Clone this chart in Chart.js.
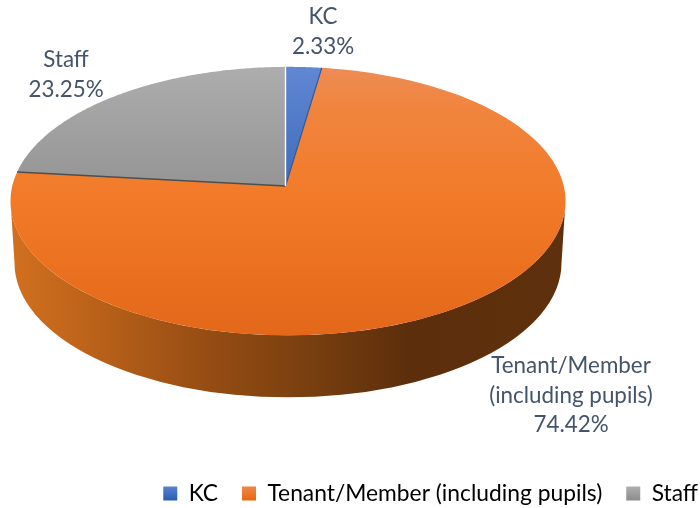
<!DOCTYPE html>
<html>
<head>
<meta charset="utf-8">
<style>html,body{margin:0;padding:0;background:#fff}canvas{display:block}</style>
<script src="https://cdn.jsdelivr.net/npm/chart.js@4"></script>
</head>
<body>
<canvas id="c" width="700" height="508"></canvas>
<script>
const categories = ['KC', 'Tenant/Member (including pupils)', 'Staff'];
const shares = [2.33, 74.42, 23.25];
const labelLines = [['KC'], ['Tenant/Member', '(including pupils)'], ['Staff']];

const FONT = 'Lato, "Open Sans", sans-serif';
const TEXT = '#44546a';
const base = ['#4472c4', '#ed7d31', '#a5a5a5'];
const faceStops = [
  [[0, '#6087d2'], [1, '#3f6cbc']],
  [[0, '#ee8c55'], [0.14, '#f0853f'], [0.5, '#f27a27'], [1, '#e3681a']],
  [[0, '#adadad'], [1, '#959595']]
];
const legendStops = [
  [[0, '#5f86d1'], [1, '#2f5fb5']],
  [[0, '#f08a4c'], [1, '#e96a15']],
  [[0, '#b2b2b2'], [1, '#8f8f8f']]
];
const wallStops = [[0, '#d0701f'], [0.1, '#c2661b'], [0.35, '#964d13'], [0.55, '#773e0f'], [0.72, '#5c2e0b'], [1, '#5f300c']];
const labelAnchors = [[323, 17], [571, 366], [66, 60]];
const LABEL_STEP = 29.5;
const SQUASH = 0.4838, SHIFT_X = -62, LIFT = -28, DEPTH = 62, WALL_INSET = 4, TILT_Y = 0.112, TILT_X = -0.009;

function project(a, g) {
  const u = Math.cos(a), v = -Math.sin(a);
  const d = 1 + TILT_Y * v, k = Math.sqrt(1 - TILT_Y * TILT_Y);
  const Y = (v + TILT_Y) / d, X = u * k / d;
  const d2 = 1 + TILT_X * X, k2 = Math.sqrt(1 - TILT_X * TILT_X);
  return [g.cx + g.rx * (X + TILT_X) / d2, g.cy - g.ry * Y * k2 / d2];
}
function apex(g) {
  return [g.cx + g.rx * TILT_X, g.cy - g.ry * TILT_Y * Math.sqrt(1 - TILT_X * TILT_X)];
}
function grad(ctx, x0, y0, x1, y1, stops) {
  const g = ctx.createLinearGradient(x0, y0, x1, y1);
  stops.forEach(s => g.addColorStop(s[0], s[1]));
  return g;
}

const tiltedPie = {
  id: 'tiltedPie',
  beforeDatasetDraw(chart, args) {
    const ctx = chart.ctx, arcs = args.meta.data, first = arcs[0];
    const g = { cx: first.x + SHIFT_X, cy: first.y + LIFT, rx: first.outerRadius, ry: first.outerRadius * SQUASH };
    const wx = g.rx - WALL_INSET, by = g.cy + DEPTH;

    // side wall
    ctx.save();
    ctx.beginPath();
    ctx.ellipse(g.cx, g.cy, g.rx, g.ry, 0, Math.PI, 0, true);
    ctx.lineTo(g.cx + wx, by);
    ctx.ellipse(g.cx, by, wx, g.ry, 0, 0, Math.PI, false);
    ctx.closePath();
    ctx.fillStyle = grad(ctx, g.cx - wx, 0, g.cx + wx, 0, wallStops);
    ctx.fill();
    ctx.restore();

    // top face, one slice per library arc element
    const tip = apex(g);
    arcs.forEach((arc, i) => {
      const n = 160, pts = [];
      for (let k = 0; k <= n; k++) {
        pts.push(project(arc.startAngle + (arc.endAngle - arc.startAngle) * k / n, g));
      }
      const ys = pts.map(p => p[1]).concat(tip[1]);
      ctx.beginPath();
      ctx.moveTo(tip[0], tip[1]);
      pts.forEach(p => ctx.lineTo(p[0], p[1]));
      ctx.closePath();
      ctx.fillStyle = grad(ctx, 0, Math.min(...ys), 0, Math.max(...ys), faceStops[i]);
      ctx.fill();
    });

    // slice edges
    const edge = (a, color, w) => {
      const p = project(a, g);
      ctx.beginPath();
      ctx.moveTo(tip[0], tip[1]);
      ctx.lineTo(p[0], p[1]);
      ctx.strokeStyle = color;
      ctx.lineWidth = w;
      ctx.stroke();
    };
    edge(arcs[1].startAngle, '#35558f', 1.2);
    edge(arcs[2].startAngle, '#4a4f50', 1.6);
    edge(arcs[0].startAngle, '#ffffff', 1.4);
    return false;
  },
  afterDatasetsDraw(chart) {
    const ctx = chart.ctx;
    ctx.save();
    ctx.font = '22.4px ' + FONT;
    ctx.fillStyle = TEXT;
    ctx.textAlign = 'center';
    ctx.textBaseline = 'middle';
    shares.forEach((s, i) => {
      const lines = labelLines[i].concat(s.toFixed(2) + '%');
      lines.forEach((t, j) => {
        ctx.fillText(t, labelAnchors[i][0], labelAnchors[i][1] + j * LABEL_STEP);
      });
    });
    ctx.restore();
  }
};

const canvas = document.getElementById('c');
new Chart(canvas, {
  type: 'pie',
  data: {
    labels: categories,
    datasets: [{ data: shares, backgroundColor: base, borderWidth: 0, radius: 277.5 }]
  },
  plugins: [tiltedPie],
  options: {
    responsive: false,
    animation: false,
    layout: { padding: { left: 0, right: -22, top: 0, bottom: -7 } },
    plugins: {
      tooltip: { enabled: false },
      legend: {
        position: 'bottom',
        align: 'end',
        labels: {
          boxWidth: 14,
          boxHeight: 14,
          padding: 24,
          color: TEXT,
          font: { family: FONT, size: 22.8 },
          generateLabels(chart) {
            return categories.map((t, i) => ({
              text: t,
              fillStyle: grad(chart.ctx, 0, 485, 0, 499, legendStops[i]),
              strokeStyle: 'transparent',
              lineWidth: 0,
              index: i,
              hidden: false
            }));
          }
        }
      }
    }
  }
});
</script>
</body>
</html>
